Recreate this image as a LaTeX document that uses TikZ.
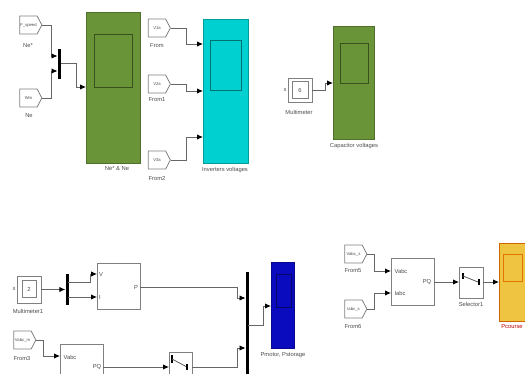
\documentclass[tikz,border=0pt]{standalone}
\usepackage{fontspec}
\setmainfont{Liberation Sans}
\usetikzlibrary{shapes.symbols, arrows.meta}
\definecolor{scopegreen}{RGB}{106,148,56}
\definecolor{scopecyan}{RGB}{0,208,208}
\definecolor{scopeblue}{RGB}{10,10,190}
\definecolor{scopeyellow}{RGB}{238,196,64}
\tikzset{
  wire/.style={draw=black!60, line width=0.9pt, -{Latex[black, length=6pt, width=5.5pt]}},
  every node/.style={inner sep=0pt, font=\fontsize{5.8}{7}\selectfont, text=black!70},
  block/.style={rectangle, draw=black!50, line width=0.9pt, fill=white},
  fromtag/.style={signal, signal to=east, signal pointer angle=125, draw=black!50, line width=0.8pt, fill=white, minimum width=22pt, minimum height=18pt, font=\fontsize{4.2}{5}\selectfont},
  bar/.style={rectangle, fill=black, minimum width=3pt},
  scopebox/.style={rectangle, draw=#1!75!black, fill=#1, line width=0.9pt},
  screen/.style={rectangle, draw=#1!55!black, fill=#1, line width=1pt}
}
\begin{document}
\begin{tikzpicture}[x=1pt, y=-1pt]
\useasboundingbox (0,0) rectangle (525,373);
\clip (0,0) rectangle (525,373);

% speed scope
\node[fromtag] (fspeed) at (28.5,25) {F\_speed};
\node (lspeed) at (28,46) {Ne*};
\node[fromtag] (fwm) at (28.5,98) {Wm};
\node (lwm) at (29,116) {Ne};
\node[bar, minimum height=30pt] (muxa) at (59,63.5) {};
\node[scopebox=scopegreen, minimum width=54pt, minimum height=151pt] (scopene) at (113,87.5) {};
\node[screen=scopegreen, minimum width=38pt, minimum height=53pt] (scrne) at (113,60.5) {};
\node (lne) at (117,169) {Ne* \& Ne};
\coordinate (muxa1) at (57.5,56);
\coordinate (muxa2) at (57.5,71);
\coordinate (scopenein) at (86,87);
\draw[wire] (fspeed.east) -- ++(9,0) |- (muxa1);
\draw[wire] (fwm.east) -- ++(9,0) |- (muxa2);
\draw[wire] (muxa.east) -- ++(16,0) |- (scopenein);

% inverter scope
\node[fromtag] (fva) at (157,28) {V1a};
\node (lva) at (157,46) {From};
\node[fromtag] (fvb) at (157,84) {V2a};
\node (lvb) at (157,100) {From1};
\node[fromtag] (fvc) at (157,160) {V3a};
\node (lvc) at (157,178) {From2};
\node[scopebox=scopecyan, minimum width=45pt, minimum height=144pt] (scopeinv) at (225.5,91) {};
\node[screen=scopecyan, minimum width=31pt, minimum height=50pt] (scrinv) at (225.5,65) {};
\node (linv) at (225,170) {Inverters voltages};
\coordinate (inva) at (203,44);
\coordinate (invb) at (203,91);
\coordinate (invc) at (203,137);
\draw[wire] (fva.east) -- ++(16,0) |- (inva);
\draw[wire] (fvb.east) -- ++(16,0) |- (invb);
\draw[wire] (fvc.east) -- ++(16,0) |- (invc);

% capacitor scope
\node[block, minimum width=24pt, minimum height=24pt] (multi) at (300,90) {};
\node[block, minimum width=16pt, minimum height=17pt] (multiin) at (300,90) {6};
\node (lmultix) at (285,90) {x};
\node (lmulti) at (299,112) {Multimeter};
\node[scopebox=scopegreen, minimum width=41pt, minimum height=113pt] (scopecap) at (353.5,82.5) {};
\node[screen=scopegreen, minimum width=28pt, minimum height=40pt] (scrcap) at (354,63) {};
\node (lcap) at (354,146) {Capacitor voltages};
\coordinate (capin) at (333,83);
\draw[wire] (multi.east) -- ++(13,0) |- (capin);

% power scope
\node[block, minimum width=24pt, minimum height=27pt] (multib) at (29,289.5) {};
\node[block, minimum width=14pt, minimum height=17pt] (multibin) at (29,289) {2};
\node (lmultibx) at (14,289) {x};
\node (lmultib) at (28,311) {Multimeter1};
\node[bar, minimum height=31pt] (muxb) at (67,289.5) {};
\node[block, minimum width=43pt, minimum height=46pt] (vi) at (118.5,286) {};
\node (viv) at (101,274) {V};
\node (vii) at (100,297) {I};
\node (vip) at (136,287) {P};
\node[bar, minimum height=104pt] (muxc) at (247,324) {};
\node[scopebox=scopeblue, minimum width=23pt, minimum height=86pt] (scopepow) at (282.5,305) {};
\node[screen=scopeblue, minimum width=15pt, minimum height=33pt] (scrpow) at (283.5,290.5) {};
\node (lpow) at (283,355) {Pmotor, Pstorage};
\node[fromtag] (fvabcm) at (22.5,340) {Vabc\_m};
\node (lfvabcm) at (22,358) {From3};
\node[block, minimum width=43pt, minimum height=60pt] (pqm) at (81.5,374) {};
\node (pqmv) at (70,357) {Vabc};
\node (pqmq) at (97,367) {PQ};
\node[block, minimum width=23pt, minimum height=50pt] (selm) at (180.5,377) {};
\coordinate (vivin) at (97,274);
\coordinate (viiin) at (97,297);
\coordinate (muxcp) at (245.5,298);
\coordinate (muxcq) at (245.5,348);
\coordinate (muxbout) at (68,282);
\coordinate (muxbouti) at (68,297);
\coordinate (pqmin) at (60,356);
\coordinate (pqmout) at (103,367);
\coordinate (selmin) at (169,367);
\coordinate (selmout) at (192,367);
\coordinate (muxcout) at (248,325);
\coordinate (powin) at (271,306);
\draw[wire] (multib.east) -- (muxb.west);
\draw[wire] (muxbout) -- ++(22,0) |- (vivin);
\draw[wire] (muxbouti) -- (viiin);
\draw[wire] (vi.east |- vip) -- ++(97,0) |- (muxcp);
\draw[wire] (muxcout) -- ++(15,0) |- (powin);
\draw[wire] (fvabcm.east) -- ++(7,0) |- (pqmin);
\draw[wire] (pqmout) -- (selmin);
\draw[wire] (selmout) -- ++(45,0) |- (muxcq);
\draw[black, line width=1.6pt] (172,355) -- (172,363);
\draw[black!65, line width=0.8pt] (172,359) -- (187,367);
\draw[black, line width=1.6pt] (187,364) -- (187,370);

% source scope
\node[fromtag] (fvabcs) at (353.5,254) {Vabc\_s};
\node (lfvabcs) at (353,271) {From5};
\node[fromtag] (fiabcs) at (353.5,309) {Iabc\_s};
\node (lfiabcs) at (353,326) {From6};
\node[block, minimum width=43pt, minimum height=47pt] (pqs) at (412.5,281.5) {};
\node (pqsv) at (401,271) {Vabc};
\node (pqsi) at (400,293) {Iabc};
\node (pqsq) at (427,282) {PQ};
\node[block, minimum width=24pt, minimum height=31pt] (sels) at (471,282.5) {};
\node (lsels) at (471,304) {Selector1};
\node[scopebox=scopeyellow, minimum width=27pt, minimum height=78pt, draw=orange!80!black] (scopesrc) at (512.5,282) {};
\node[screen=scopeyellow, minimum width=19pt, minimum height=27pt, draw=orange!90!black] (scrsrc) at (512.5,267.5) {};
\node[text=red!75!black] (lsrc) at (512,327) {Pcourse};
\coordinate (pqsvin) at (391,271);
\coordinate (pqsiin) at (391,293);
\coordinate (pqsout) at (434,282);
\coordinate (selsin) at (459,282);
\coordinate (selsout) at (483,282);
\coordinate (srcin) at (499,282);
\draw[wire] (fvabcs.east) -- ++(7,0) |- (pqsvin);
\draw[wire] (fiabcs.east) -- ++(7,0) |- (pqsiin);
\draw[wire] (pqsout) -- (selsin);
\draw[wire] (selsout) -- (srcin);
\draw[black, line width=1.6pt] (463,273) -- (463,279);
\draw[black!65, line width=0.8pt] (463,276) -- (478,282);
\draw[black, line width=1.6pt] (479,279) -- (479,285);
\end{tikzpicture}
\end{document}
